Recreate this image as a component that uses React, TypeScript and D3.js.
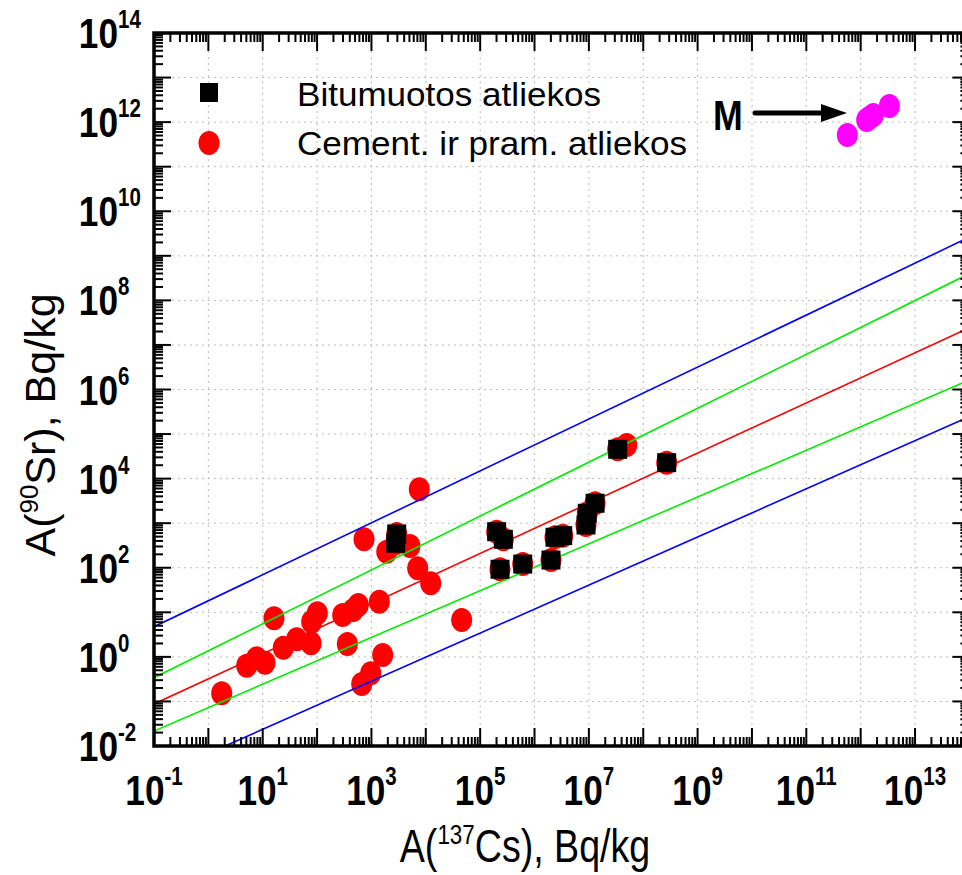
import React from "react";
import * as d3 from "d3";

// A(137Cs) vs A(90Sr), Bq/kg
const cementPoints: [number, number][] = [
  [1.76, 0.152], [5.07, 0.63], [7.74, 0.93], [11.0, 0.74], [16.1, 7.35],
  [23.9, 1.61], [42.2, 2.48], [77.3, 2.02], [79.6, 6.17], [101, 9.5],
  [296, 8.7], [360, 1.95], [463, 11.3], [573, 14.6], [662, 0.246],
  [969, 0.43], [730, 435], [1396, 17.3], [1611, 1.1], [1910, 229],
  [5117, 308], [7096, 97.3], [7590, 5770], [12300, 44.8], [45700, 6.73],
  [4.97e7, 5.69e4],
];

const bitumenPoints: [number, number][] = [
  [2917, 573], [2793, 354], [2.01e5, 644], [2.67e5, 435], [2.32e5, 92.5],
  [6.07e5, 121], [2.01e6, 149], [2.38e6, 483], [3.3e6, 525], [8.85e6, 912],
  [9.35e6, 1667], [1.3e7, 2800], [3.39e7, 4.55e4], [2.7e8, 2.28e4],
];

const mPoints: [number, number][] = [
  [5.68e11, 5.15e11], [1.29e12, 1.12e12], [1.45e12, 1.25e12],
  [1.71e12, 1.45e12], [3.37e12, 2.31e12],
];

// fit line and bands, y at x = 1e-1 and x = 1e14
const bandX = [1e-1, 1e14];
const upperPred = [4.75, 2.62e9];
const upperConf = [0.341, 3.99e8];
const fitLine = [0.0877, 2.45e7];
const lowerConf = [0.0217, 1.63e6];
const lowerPred = [0.00197, 2.45e5];

const xLabelExp = [-1, 1, 3, 5, 7, 9, 11, 13];
const yLabelExp = [-2, 0, 2, 4, 6, 8, 10, 12, 14];
const legendNames = ["Bitumuotos atliekos", "Cement. ir pram. atliekos"];

const mLabel = [1.92e9, 6.67e11];
const arrowFrom = [1.14e10, 1.61e12];
const arrowTo = [5.6e11, 1.61e12];

const W = 962;
const H = 875;
const left = 154, right = 969.4, top = 33, bottom = 746;
const font = "'Liberation Sans', Arial, Helvetica, sans-serif";

export default function App() {
  const x = d3.scaleLog().domain([1e-1, 1e14]).range([left, right]);
  const y = d3.scaleLog().domain([1e-2, 1e14]).range([bottom, top]);

  const xTicks: { v: number; major: boolean }[] = [];
  for (let e = -1; e <= 13; e++)
    for (let m = 1; m <= 9; m++) xTicks.push({ v: m * Math.pow(10, e), major: m === 1 });
  xTicks.push({ v: 1e14, major: true });
  const yTicks: { v: number; major: boolean }[] = [];
  for (let e = -2; e <= 13; e++)
    for (let m = 1; m <= 9; m++) yTicks.push({ v: m * Math.pow(10, e), major: m === 1 });
  yTicks.push({ v: 1e14, major: true });

  const line = d3
    .line<number>()
    .x((d, i) => x(bandX[i]))
    .y((d) => y(d));

  const bands = [
    { d: upperPred, c: "#0000ff" },
    { d: upperConf, c: "#00ee00" },
    { d: fitLine, c: "#ff0000" },
    { d: lowerConf, c: "#00ee00" },
    { d: lowerPred, c: "#0000ff" },
  ];

  const majorLen = 18, minorLen = 9;

  return (
    <svg width={W} height={H} style={{ position: "absolute", left: 0, top: 0, background: "#fff" }}>
      <defs>
        <clipPath id="plot">
          <rect x={left} y={top} width={right - left} height={bottom - top} />
        </clipPath>
      </defs>
      <rect width={W} height={H} fill="#fff" />

      {/* grid */}
      <g stroke="#bdbdbd" strokeWidth={1} strokeDasharray="2,4">
        {xTicks.filter((t) => t.major && t.v > 1e-1 && t.v < 1e14).map((t, i) => (
          <line key={"gx" + i} x1={x(t.v)} x2={x(t.v)} y1={top} y2={bottom} />
        ))}
        {yTicks.filter((t) => t.major && t.v > 1e-2 && t.v < 1e14).map((t, i) => (
          <line key={"gy" + i} x1={left} x2={right} y1={y(t.v)} y2={y(t.v)} />
        ))}
      </g>

      <g clipPath="url(#plot)">
        {[...cementPoints, ...bitumenPoints].map((p, i) => (
          <ellipse key={"c" + i} cx={x(p[0])} cy={y(p[1])} rx={10.5} ry={12} fill="#ff0000" />
        ))}
        {bands.map((b, i) => (
          <path key={"b" + i} d={line(b.d) || ""} fill="none" stroke={b.c} strokeWidth={1.6} />
        ))}
        {bitumenPoints.map((p, i) => (
          <rect key={"s" + i} x={x(p[0]) - 9.5} y={y(p[1]) - 9.5} width={19} height={19} fill="#000" />
        ))}
        {mPoints.map((p, i) => (
          <ellipse key={"m" + i} cx={x(p[0])} cy={y(p[1])} rx={10.5} ry={12} fill="#ff00ff" />
        ))}
      </g>

      {/* ticks */}
      <g stroke="#000" strokeWidth={2}>
        {xTicks.map((t, i) => {
          const px = x(t.v);
          const l = t.major ? majorLen : minorLen;
          return (
            <g key={"tx" + i}>
              <line x1={px} x2={px} y1={bottom} y2={bottom - l} />
              <line x1={px} x2={px} y1={top} y2={top + l} />
            </g>
          );
        })}
        {yTicks.map((t, i) => {
          const py = y(t.v);
          const l = t.major ? majorLen - 1 : minorLen;
          return (
            <g key={"ty" + i}>
              <line x1={left} x2={left + l} y1={py} y2={py} />
              <line x1={right} x2={right - l} y1={py} y2={py} />
            </g>
          );
        })}
      </g>
      <rect x={left} y={top} width={right - left} height={bottom - top} fill="none" stroke="#000" strokeWidth={3.5} />

      {/* tick labels */}
      <g fontFamily={font} fontWeight="bold" fill="#000">
        {xLabelExp.map((e) => (
          <g key={"lx" + e} transform={`translate(${x(Math.pow(10, e))},805) scale(0.82,1)`}>
            <text textAnchor="middle" fontSize={43}>
              10<tspan fontSize={25} dy={-20}>{e}</tspan>
            </text>
          </g>
        ))}
        {yLabelExp.map((e) => (
          <g key={"ly" + e} transform={`translate(118,${y(Math.pow(10, e)) + 15}) scale(0.82,1)`}>
            <text textAnchor="end" fontSize={43}>10</text>
            <text x={0} y={-20} fontSize={25}>{e}</text>
          </g>
        ))}
      </g>

      {/* axis titles */}
      <text
        transform={`translate(${525},862) scale(0.8,1)`}
        textAnchor="middle"
        fontFamily={font}
        fontSize={47}
      >
        A(<tspan fontSize={28} dy={-18}>137</tspan>
        <tspan dy={18}>Cs), Bq/kg</tspan>
      </text>
      <text
        transform={`translate(55,425) rotate(-90)`}
        textAnchor="middle"
        fontFamily={font}
        fontSize={43}
      >
        A(<tspan fontSize={26} dy={-17}>90</tspan>
        <tspan dy={17}>Sr),  Bq/kg</tspan>
      </text>

      {/* legend */}
      <rect x={200} y={83} width={18} height={19} fill="#000" />
      <ellipse cx={209} cy={143} rx={10.5} ry={12} fill="#ff0000" />
      <text x={297} y={106} fontFamily={font} fontSize={34} textLength={304} lengthAdjust="spacingAndGlyphs">
        {legendNames[0]}
      </text>
      <text x={297} y={155} fontFamily={font} fontSize={34} textLength={390} lengthAdjust="spacingAndGlyphs">
        {legendNames[1]}
      </text>

      {/* M annotation */}
      <text
        transform={`translate(${x(mLabel[0])},${y(mLabel[1])}) scale(0.85,1)`}
        fontFamily={font}
        fontWeight="bold"
        fontSize={42}
      >
        M
      </text>
      <line
        x1={x(arrowFrom[0])}
        x2={x(arrowTo[0]) - 24}
        y1={y(arrowFrom[1])}
        y2={y(arrowTo[1])}
        stroke="#000"
        strokeWidth={5}
        strokeLinecap="round"
      />
      <path
        d={`M${x(arrowTo[0])},${y(arrowTo[1])} l-26,-9 l0,18 z`}
        fill="#000"
      />
    </svg>
  );
}
